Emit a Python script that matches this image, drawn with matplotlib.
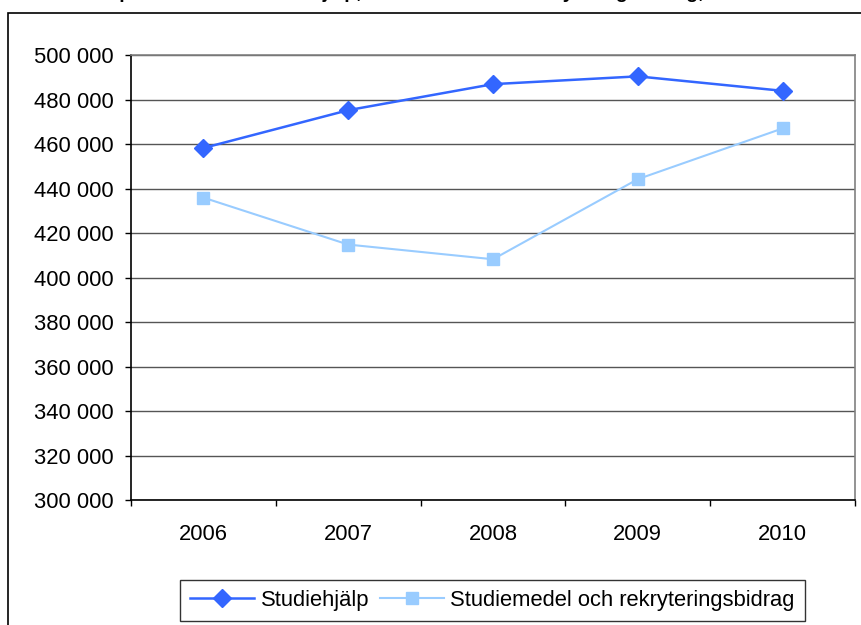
import matplotlib
matplotlib.use("Agg")
import matplotlib.pyplot as plt
from matplotlib.patches import Rectangle
from matplotlib.ticker import FuncFormatter, FixedLocator

plt.rcParams['font.family'] = ['Liberation Sans', 'DejaVu Sans']

years = ["2006", "2007", "2008", "2009", "2010"]
studiehjalp = [458200, 475200, 486900, 490400, 483900]
studiemedel = [435900, 414800, 408200, 444200, 467000]
series_names = ["Studiehjälp", "Studiemedel och rekryteringsbidrag"]
title = "Antal personer med studiehjälp, studiemedel och rekryteringsbidrag, 2006–2010"
yticks = list(range(300000, 500001, 20000))

W, H = 861, 625
fig = plt.figure(figsize=(W / 100, H / 100), dpi=100)
fig.patch.set_facecolor("white")

# outer chart frame (right and bottom edges run off the image)
fig.patches.append(Rectangle((8 / W, -0.1), 1.2, 1.1 - 13 / H,
                             transform=fig.transFigure, fill=False,
                             edgecolor="black", linewidth=1.2, zorder=0))

# title, cut off at the top edge as in the reference (only descenders visible)
fig.text(436 / W, 1 + 2.5 / H, title, ha="center", va="baseline",
         fontsize=14, fontweight="bold")

ax = fig.add_axes([131 / W, (H - 500) / H, (855 - 131) / W, (500 - 55) / H])
x = list(range(len(years)))

ax.plot(x, studiehjalp, color="#3366FF", linewidth=1.8, marker="D",
        markersize=9, label=series_names[0], zorder=4, clip_on=False)
ax.plot(x, studiemedel, color="#99CCFF", linewidth=1.5, marker="s",
        markersize=8.5, label=series_names[1], zorder=3, clip_on=False)

ax.set_xlim(-0.5, len(years) - 0.5)
ax.set_ylim(yticks[0], yticks[-1])
ax.set_yticks(yticks)
ax.yaxis.set_major_formatter(FuncFormatter(lambda v, p: f"{v:,.0f}".replace(",", " ")))
ax.grid(axis="y", color="#555555", linewidth=1.0)
ax.set_axisbelow(True)

ax.set_xticks(x)
ax.set_xticklabels(years)
ax.xaxis.set_minor_locator(FixedLocator([i - 0.5 for i in range(len(years) + 1)]))
ax.tick_params(axis="x", which="major", length=0, pad=17, labelsize=15.8)
ax.tick_params(axis="x", which="minor", length=4.5, width=1.0, color="black")
ax.tick_params(axis="y", length=4.5, width=1.0, pad=8, labelsize=15.8)

for s in ["left", "bottom"]:
    ax.spines[s].set_color("black")
    ax.spines[s].set_linewidth(1.2)
for s in ["top", "right"]:
    ax.spines[s].set_color("#808080")
    ax.spines[s].set_linewidth(1.2)

leg = fig.legend(loc="center", bbox_to_anchor=(492.5 / W, 1 - 600.5 / H),
                 ncol=2, fontsize=15.8, frameon=True, fancybox=False,
                 edgecolor="black", handlelength=2.9, handletextpad=0.3,
                 columnspacing=0.5, borderpad=0.45, borderaxespad=0)
leg.get_frame().set_linewidth(1.0)

fig.savefig("out.png", dpi=100, facecolor="white")
